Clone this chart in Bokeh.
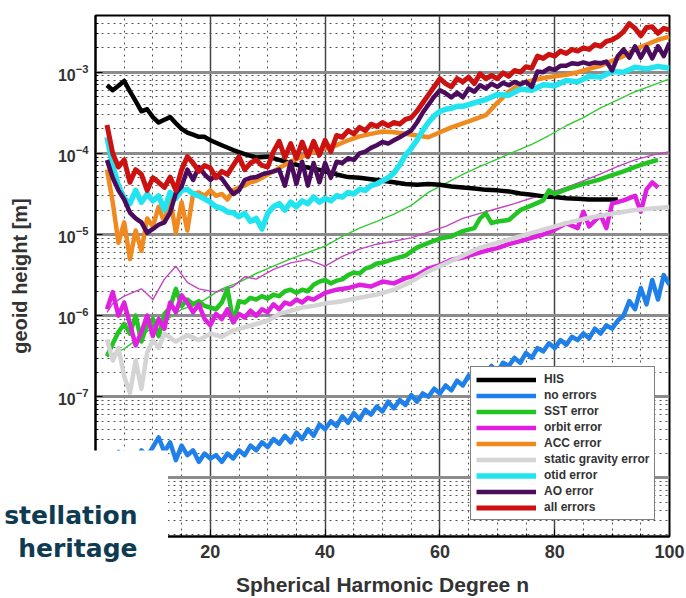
from bokeh.plotting import figure
from bokeh.layouts import column
from bokeh.models import Range1d, SingleIntervalTicker, LogTicker, Legend, LegendItem, Label
from bokeh.embed import file_html
from bokeh.resources import INLINE

# ---------------- data ----------------
his_deg = [2, 3, 4, 5, 6, 7, 8, 9, 10, 11, 12, 13, 14, 15, 16, 17, 18, 19, 20,
           22, 24, 26, 28, 30, 32, 34, 36, 38, 40,
           42, 44, 46, 48, 50, 52, 54, 56, 58, 60,
           62, 64, 66, 68, 70, 72, 74, 76, 78, 80,
           82, 84, 86, 88, 90, 91]
his_val = [6.9e-4, 6.0e-4, 6.8e-4, 7.8e-4, 5.8e-4, 4.4e-4, 3.3e-4, 3.5e-4, 2.8e-4, 2.4e-4,
           2.6e-4, 2.8e-4, 2.35e-4, 2.0e-4, 1.8e-4, 1.7e-4, 1.6e-4, 1.6e-4, 1.45e-4,
           1.26e-4, 1.1e-4, 9.8e-5, 8.9e-5, 9.1e-5, 8.3e-5, 7.6e-5, 6.9e-5, 6.5e-5, 6.0e-5,
           5.5e-5, 5.1e-5, 5.0e-5, 4.8e-5, 4.6e-5, 4.4e-5, 4.2e-5, 4.1e-5, 4.2e-5, 4.1e-5,
           3.9e-5, 3.8e-5, 3.7e-5, 3.55e-5, 3.5e-5, 3.4e-5, 3.2e-5, 3.1e-5, 2.95e-5, 2.9e-5,
           2.8e-5, 2.75e-5, 2.7e-5, 2.7e-5, 2.7e-5, 2.7e-5]

full_deg = list(range(2, 101))

noerr_val = [2.0e-8, 1.78e-8, 2.09e-8, 1.58e-8, 2.0e-8, 1.66e-8, 2.19e-8, 1.82e-8, 2.4e-8,
             3.16e-8, 2.09e-8, 2.75e-8, 1.66e-8, 2.51e-8, 1.91e-8, 2.19e-8, 1.58e-8, 2.0e-8, 1.74e-8,
             1.91e-8, 1.58e-8, 2.0e-8, 1.74e-8, 2.19e-8, 1.91e-8, 2.51e-8, 2.19e-8, 2.75e-8, 2.4e-8,
             3.02e-8, 2.63e-8, 3.31e-8, 2.75e-8, 3.63e-8, 3.02e-8, 3.98e-8, 3.31e-8, 4.57e-8, 3.98e-8,
             5.0e-8, 4.37e-8, 5.75e-8, 4.79e-8, 6.31e-8, 5.25e-8, 6.92e-8, 6.03e-8, 7.59e-8, 6.61e-8,
             8.71e-8, 7.24e-8, 9.12e-8, 7.94e-8, 1.05e-7, 8.71e-8, 1.10e-7, 1.0e-7, 1.26e-7, 1.10e-7,
             1.38e-7, 1.20e-7, 1.58e-7, 1.38e-7, 1.82e-7, 1.58e-7, 2.0e-7, 1.82e-7, 2.4e-7, 2.0e-7,
             2.63e-7, 2.4e-7, 3.02e-7, 2.63e-7, 3.47e-7, 3.02e-7, 3.98e-7, 3.63e-7, 4.57e-7, 3.98e-7,
             5.0e-7, 4.37e-7, 5.5e-7, 5.0e-7, 6.03e-7, 5.25e-7, 6.92e-7, 6.03e-7, 7.59e-7, 6.92e-7,
             8.71e-7, 1.0e-6, 1.51e-6, 1.20e-6, 2.19e-6, 1.38e-6, 2.75e-6, 1.58e-6, 3.16e-6, 2.4e-6]

sst_deg = (list(range(2, 51)) + [52, 54, 56, 58, 60, 62, 64, 66, 67, 68, 69, 70, 72, 74, 76, 78, 79]
           + [80, 82, 84, 86, 88, 90, 92, 94, 96, 98])
sst_val = [3.16e-7, 4.5e-7, 6.3e-7, 7.9e-7, 6.0e-7, 1.0e-6, 4.8e-7, 7.9e-7, 9.1e-7,
           5.6e-7, 1.05e-6, 1.26e-6, 2.14e-6, 1.32e-6, 1.58e-6, 1.38e-6, 1.51e-6, 1.32e-6, 1.26e-6,
           1.20e-6, 1.45e-6, 2.14e-6, 8.3e-7, 1.51e-6, 1.45e-6, 1.66e-6, 1.58e-6, 1.74e-6, 1.62e-6,
           1.82e-6, 1.74e-6, 2.0e-6, 2.09e-6, 1.91e-6, 2.09e-6, 2.0e-6, 2.4e-6, 2.63e-6, 2.75e-6,
           2.5e-6, 2.7e-6, 2.8e-6, 3.16e-6, 3.4e-6, 3.3e-6, 3.8e-6, 4.0e-6, 4.4e-6, 4.5e-6,
           5.0e-6, 5.5e-6, 6.9e-6, 7.9e-6, 8.9e-6, 9.5e-6, 1.10e-5, 1.20e-5,
           1.58e-5, 1.82e-5, 1.38e-5, 1.45e-5,
           1.51e-5, 2.0e-5, 2.29e-5, 2.63e-5, 3.5e-5,
           3.16e-5, 3.6e-5, 4.0e-5, 4.4e-5, 4.8e-5, 5.4e-5, 6.0e-5, 6.8e-5, 7.6e-5, 8.3e-5]

sst_thin_deg = [2, 5, 8, 11, 13, 15, 17, 19, 22, 25, 28, 31, 34, 37, 40, 43, 46, 49, 52, 55,
                58, 61, 64, 67, 70, 73, 76, 79, 82, 85, 88, 91, 94, 97, 100]
sst_thin_val = [3.16e-7, 3.9e-7, 5.6e-7, 8.3e-7, 9.5e-7, 1.20e-6, 1.32e-6, 1.58e-6, 2.14e-6, 2.57e-6,
                3.31e-6, 4.07e-6, 5.0e-6, 6.0e-6, 7.2e-6, 9.5e-6, 1.20e-5, 1.45e-5, 1.78e-5, 2.29e-5,
                3.31e-5, 4.27e-5, 5.5e-5, 6.9e-5, 8.5e-5, 1.05e-4, 1.29e-4, 1.66e-4, 2.19e-4, 2.75e-4,
                3.63e-4, 4.57e-4, 5.75e-4, 6.9e-4, 8.3e-4]

orbit_deg = (list(range(2, 39)) + [40, 42, 44, 46, 48, 50, 52, 54, 56, 58, 60, 62, 64, 66, 68, 70,
                                   72, 74, 76, 78, 80, 82]
             + [84, 85, 86, 88, 89, 90, 92, 94, 95, 96, 97, 98])
orbit_val = [1.20e-6, 1.95e-6, 1.0e-6, 1.45e-6, 7.9e-7, 4.3e-7, 6.3e-7, 1.0e-6, 5.6e-7,
             9.1e-7, 6.9e-7, 1.45e-6, 1.10e-6, 1.78e-6, 1.45e-6, 1.10e-6, 1.38e-6, 9.1e-7, 7.6e-7,
             1.05e-6, 9.1e-7, 1.20e-6, 8.3e-7, 1.05e-6, 9.5e-7, 1.15e-6, 1.0e-6, 1.20e-6, 1.10e-6,
             1.38e-6, 1.20e-6, 1.45e-6, 1.38e-6, 1.58e-6, 1.45e-6, 1.66e-6, 1.58e-6,
             1.91e-6, 2.09e-6, 2.19e-6, 2.4e-6, 2.29e-6, 2.63e-6, 2.5e-6, 2.9e-6, 3.16e-6, 3.8e-6,
             4.2e-6, 4.9e-6, 5.2e-6, 5.75e-6, 6.3e-6, 6.8e-6, 7.6e-6, 8.3e-6, 9.1e-6, 1.0e-5,
             1.15e-5, 1.38e-5,
             1.20e-5, 1.91e-5, 1.26e-5, 1.74e-5, 1.20e-5, 2.4e-5, 2.63e-5, 3.0e-5, 1.91e-5, 3.6e-5,
             4.4e-5, 3.8e-5]

orbit_thin_deg = [2, 3, 5, 8, 10, 12, 14, 16, 18, 21, 24, 26, 28, 31, 34, 37, 40, 43, 46, 49,
                  52, 55, 58, 61, 64, 67, 70, 73, 76, 79, 82, 85, 88, 91, 94, 97, 100]
orbit_thin_val = [1.10e-6, 1.41e-6, 1.74e-6, 2.14e-6, 1.58e-6, 2.82e-6, 4.07e-6, 2.57e-6, 2.14e-6, 1.95e-6,
                  2.29e-6, 3.02e-6, 2.82e-6, 3.72e-6, 4.47e-6, 4.9e-6, 4.07e-6, 5.37e-6, 6.6e-6, 7.6e-6,
                  8.3e-6, 9.1e-6, 1.07e-5, 1.26e-5, 1.58e-5, 1.82e-5, 2.09e-5, 2.4e-5, 2.82e-5, 3.24e-5,
                  3.8e-5, 4.57e-5, 5.6e-5, 6.9e-5, 8.3e-5, 9.5e-5, 1.05e-4]

acc_deg = list(range(2, 33)) + list(range(34, 101, 2))
acc_val = [6.3e-5, 2.5e-5, 7.9e-6, 1.41e-5, 5.0e-6, 1.12e-5, 6.3e-6, 1.58e-5, 1.26e-5,
           2.2e-5, 1.41e-5, 2.8e-5, 1.05e-5, 2.5e-5, 1.12e-5, 3.16e-5, 3.3e-5, 3.0e-5, 3.5e-5,
           3.0e-5, 3.16e-5, 2.7e-5, 3.5e-5, 3.8e-5, 4.0e-5, 4.4e-5, 4.6e-5, 5.0e-5, 5.5e-5,
           6.0e-5, 6.6e-5,
           7.9e-5, 9.1e-5, 1.05e-4, 1.15e-4, 1.26e-4, 1.45e-4, 1.62e-4, 1.74e-4, 1.86e-4, 1.82e-4,
           1.74e-4, 1.66e-4, 1.58e-4, 1.82e-4, 2.09e-4, 2.34e-4, 2.63e-4, 2.95e-4, 4.2e-4, 5.75e-4,
           7.2e-4, 7.9e-4, 8.5e-4, 8.9e-4, 9.3e-4, 1.0e-3, 1.10e-3, 1.20e-3, 1.38e-3, 1.58e-3,
           1.91e-3, 2.19e-3, 2.51e-3, 2.75e-3]

static_deg = list(range(2, 13)) + list(range(14, 41, 2)) + list(range(43, 101, 3))
static_val = [5.1e-7, 2.8e-7, 4.0e-7, 1.78e-7, 1.12e-7, 2.8e-7, 1.26e-7, 3.5e-7, 5.0e-7, 4.0e-7, 6.0e-7,
              4.8e-7, 5.75e-7, 5.0e-7, 6.0e-7, 5.5e-7, 6.6e-7, 7.2e-7, 7.9e-7, 8.7e-7, 1.05e-6,
              1.15e-6, 1.26e-6, 1.32e-6, 1.41e-6,
              1.51e-6, 1.66e-6, 1.82e-6, 2.09e-6, 2.63e-6, 3.5e-6, 4.4e-6, 5.5e-6, 6.9e-6, 7.9e-6,
              9.1e-6, 1.05e-5, 1.20e-5, 1.38e-5, 1.55e-5, 1.70e-5, 1.86e-5, 2.0e-5, 2.09e-5, 2.19e-5]

otid_deg = list(range(2, 69)) + list(range(70, 101, 2))
otid_val = [1.58e-4, 7.1e-5, 4.0e-5, 2.8e-5, 2.4e-5, 3.5e-5, 2.5e-5, 3.16e-5, 2.6e-5,
            3.0e-5, 2.0e-5, 3.3e-5, 2.8e-5, 3.5e-5, 3.6e-5, 3.16e-5, 3.0e-5, 2.75e-5, 2.5e-5,
            2.2e-5, 2.1e-5, 1.9e-5, 1.86e-5, 1.66e-5, 1.82e-5, 1.45e-5, 1.58e-5, 1.17e-5, 1.82e-5,
            2.2e-5, 2.4e-5, 2.0e-5, 2.5e-5, 2.2e-5, 2.6e-5, 2.4e-5, 2.9e-5, 2.5e-5, 2.8e-5,
            2.6e-5, 3.0e-5, 2.9e-5, 3.3e-5, 3.16e-5, 3.6e-5, 3.5e-5, 4.0e-5, 4.2e-5, 4.6e-5,
            5.0e-5, 5.75e-5, 7.2e-5, 9.5e-5, 1.15e-4, 1.45e-4, 1.91e-4, 2.4e-4, 2.9e-4, 3.3e-4,
            3.5e-4, 3.6e-4, 3.8e-4, 3.8e-4, 4.0e-4, 4.2e-4, 4.4e-4, 4.6e-4,
            5.3e-4, 5.2e-4, 6.2e-4, 6.0e-4, 7.0e-4, 6.8e-4, 7.9e-4, 7.6e-4, 8.9e-4, 8.7e-4,
            1.02e-3, 1.0e-3, 1.15e-3, 1.10e-3, 1.18e-3, 1.12e-3]

ao_val = [8.3e-5, 5.0e-5, 3.5e-5, 2.7e-5, 1.86e-5, 1.58e-5, 1.41e-5, 1.05e-5, 1.17e-5,
          1.32e-5, 1.41e-5, 1.86e-5, 3.24e-5, 3.9e-5, 6.3e-5, 4.7e-5, 6.8e-5, 5.5e-5, 4.7e-5,
          5.4e-5, 4.9e-5, 3.9e-5, 3.16e-5, 3.5e-5, 4.7e-5, 5.0e-5, 5.1e-5, 5.5e-5, 5.75e-5,
          6.0e-5, 6.3e-5, 4.0e-5, 7.9e-5, 4.2e-5, 7.9e-5, 4.0e-5, 7.6e-5, 4.4e-5, 7.6e-5,
          5.0e-5, 7.9e-5, 7.6e-5, 8.7e-5, 8.3e-5, 1.0e-4, 1.05e-4, 1.17e-4, 1.26e-4, 1.38e-4,
          1.32e-4, 1.45e-4, 1.58e-4, 1.74e-4, 1.91e-4, 2.40e-4, 3.16e-4, 3.98e-4, 5.0e-4, 6.0e-4,
          5.5e-4, 4.9e-4, 5.6e-4, 4.9e-4, 6.3e-4, 5.75e-4, 6.9e-4, 6.3e-4, 7.2e-4, 6.6e-4,
          7.4e-4, 6.9e-4, 7.6e-4, 7.1e-4, 7.6e-4, 6.6e-4, 1.02e-3, 1.0e-3, 1.12e-3, 1.07e-3,
          1.20e-3, 1.20e-3, 1.29e-3, 1.26e-3, 1.32e-3, 1.26e-3, 1.32e-3, 1.29e-3, 1.35e-3, 1.05e-3,
          1.58e-3, 1.91e-3, 1.51e-3, 2.09e-3, 1.51e-3, 2.04e-3, 1.48e-3, 2.09e-3, 1.58e-3, 2.29e-3]

all_val = [2.24e-4, 1.0e-4, 6.8e-5, 8.3e-5, 4.4e-5, 6.3e-5, 5.5e-5, 3.5e-5, 5.0e-5,
           4.4e-5, 3.8e-5, 5.1e-5, 3.5e-5, 6.3e-5, 9.1e-5, 7.6e-5, 6.0e-5, 7.1e-5, 6.6e-5,
           5.0e-5, 6.0e-5, 5.5e-5, 7.1e-5, 9.1e-5, 6.3e-5, 7.6e-5, 8.3e-5, 7.1e-5, 6.8e-5,
           1.05e-4, 1.41e-4, 8.9e-5, 1.32e-4, 8.7e-5, 1.38e-4, 9.1e-5, 1.41e-4, 9.5e-5, 1.45e-4,
           1.05e-4, 1.66e-4, 1.58e-4, 1.91e-4, 1.74e-4, 2.09e-4, 1.91e-4, 2.29e-4, 2.14e-4, 2.40e-4,
           2.19e-4, 2.40e-4, 2.29e-4, 2.63e-4, 2.75e-4, 3.31e-4, 4.17e-4, 5.25e-4, 6.61e-4, 8.32e-4,
           7.24e-4, 6.61e-4, 8.32e-4, 7.59e-4, 8.71e-4, 7.24e-4, 9.55e-4, 8.32e-4, 9.12e-4, 8.32e-4,
           9.8e-4, 8.9e-4, 1.05e-3, 1.0e-3, 1.17e-3, 1.12e-3, 1.58e-3, 1.48e-3, 1.66e-3, 1.58e-3,
           1.82e-3, 1.70e-3, 1.91e-3, 1.82e-3, 2.0e-3, 1.91e-3, 2.19e-3, 2.09e-3, 2.40e-3, 2.51e-3,
           2.75e-3, 3.16e-3, 3.98e-3, 3.47e-3, 2.82e-3, 3.55e-3, 3.63e-3, 3.02e-3, 3.47e-3, 3.31e-3]

legend_labels = ["HIS", "no errors", "SST error", "orbit error", "ACC error",
                 "static gravity error", "otid error", "AO error", "all errors"]
overlay_lines = ["stellation", "heritage"]
x_label = "Spherical Harmonic Degree n"
y_label = "geoid height [m]"

# ---------------- main figure ----------------
p = figure(width=686, height=598, y_axis_type="log",
           x_range=Range1d(0, 100), y_range=Range1d(1.9e-9, 5e-3),
           output_backend="svg", toolbar_location=None,
           min_border_left=95, min_border_right=17, min_border_top=15, min_border_bottom=60)
p.background_fill_color = "white"
p.border_fill_color = "white"
p.outline_line_color = "black"
p.outline_line_width = 2

xt = SingleIntervalTicker(interval=20, num_minor_ticks=4)
p.xaxis.ticker = xt
p.xgrid.ticker = xt
yt = LogTicker(desired_num_ticks=8, num_minor_ticks=10)
p.yaxis.ticker = yt
p.ygrid.ticker = yt

p.xgrid.grid_line_color = "#444444"
p.xgrid.grid_line_width = 1.5
p.xgrid.minor_grid_line_color = "#555555"
p.xgrid.minor_grid_line_dash = "2 4"
p.xgrid.minor_grid_line_width = 1
p.ygrid.grid_line_color = "#8c8c8c"
p.ygrid.grid_line_width = 3
p.ygrid.minor_grid_line_color = "#555555"
p.ygrid.minor_grid_line_dash = "2 4"
p.ygrid.minor_grid_line_width = 1

for ax in (p.xaxis[0], p.yaxis[0]):
    ax.axis_line_color = "black"
    ax.axis_line_width = 2
    ax.major_tick_in = 7
    ax.major_tick_out = 0
    ax.minor_tick_in = 3
    ax.minor_tick_out = 0
    ax.major_tick_line_color = "black"
    ax.minor_tick_line_color = "black"
    ax.major_label_text_font = "Liberation Sans"
    ax.major_label_text_font_style = "bold"
    ax.major_label_text_color = "#333333"
    ax.axis_label_text_font = "Liberation Sans"
    ax.axis_label_text_font_style = "bold"
    ax.axis_label_text_color = "#333333"

p.xaxis.major_label_text_font_size = "18px"
p.xaxis.major_label_standoff = 8
p.xaxis.axis_label = x_label
p.xaxis.axis_label_text_font_size = "21px"
p.xaxis.axis_label_standoff = 12

p.yaxis.major_label_text_font_size = "16px"
p.yaxis.major_label_standoff = 7
p.yaxis.axis_label = y_label
p.yaxis.axis_label_text_font_size = "20px"
p.yaxis.axis_label_standoff = 24

# thin companion lines (underneath)
p.line(sst_thin_deg, sst_thin_val, line_color="#33cc33", line_width=1.4)
p.line(orbit_thin_deg, orbit_thin_val, line_color="#c445c4", line_width=1.4)

series = [
    (his_deg, his_val, "#000000", 4.5),
    (full_deg, noerr_val, "#1f80ea", 4.5),
    (sst_deg, sst_val, "#22c422", 4.5),
    (orbit_deg, orbit_val, "#e020e0", 4.5),
    (acc_deg, acc_val, "#f08a1e", 4.5),
    (static_deg, static_val, "#d4d4d4", 4.5),
    (otid_deg, otid_val, "#22e4f0", 5.5),
    (full_deg, ao_val, "#4b0c5e", 4.5),
    (full_deg, all_val, "#cc1111", 5),
]
renderers = []
for xs, ys, col, w in series:
    r = p.line(xs, ys, line_color=col, line_width=w, line_join="round")
    renderers.append(r)

legend = Legend(items=[LegendItem(label=lab, renderers=[r]) for lab, r in zip(legend_labels, renderers)],
                location=(375, 16))
legend.label_text_font = "Liberation Sans"
legend.label_text_font_style = "bold"
legend.label_text_font_size = "12px"
legend.label_text_color = "#333333"
legend.glyph_width = 60
legend.glyph_height = 13
legend.label_height = 13
legend.label_standoff = 8
legend.spacing = 2
legend.padding = 5
legend.margin = 0
legend.border_line_color = "black"
legend.border_line_width = 1
legend.background_fill_color = "white"
legend.background_fill_alpha = 1.0
p.add_layout(legend)

# ---------------- white caption box laid over the lower-left corner ----------------
ov = figure(width=168, height=148, output_backend="svg", toolbar_location=None,
            x_axis_location=None, y_axis_location=None, min_border=0,
            x_range=Range1d(0, 1), y_range=Range1d(0, 1),
            styles={"position": "absolute", "left": "0px", "top": "450px", "z-index": "10"})
if "frame_align" in ov.properties():
    ov.frame_align = False
ov.outline_line_color = None
ov.background_fill_color = "white"
ov.border_fill_color = "white"
ov.grid.visible = False
for txt, yy in zip(overlay_lines, (83, 50)):
    ov.add_layout(Label(x=137, y=yy, x_units="screen", y_units="screen", text=txt,
                        text_align="right", text_baseline="alphabetic",
                        text_font="DejaVu Sans", text_font_style="bold", text_font_size="25px",
                        text_color="#0e3a52"))

page = column(p, ov, spacing=0)
open("out.html", "w").write(file_html(page, INLINE))
